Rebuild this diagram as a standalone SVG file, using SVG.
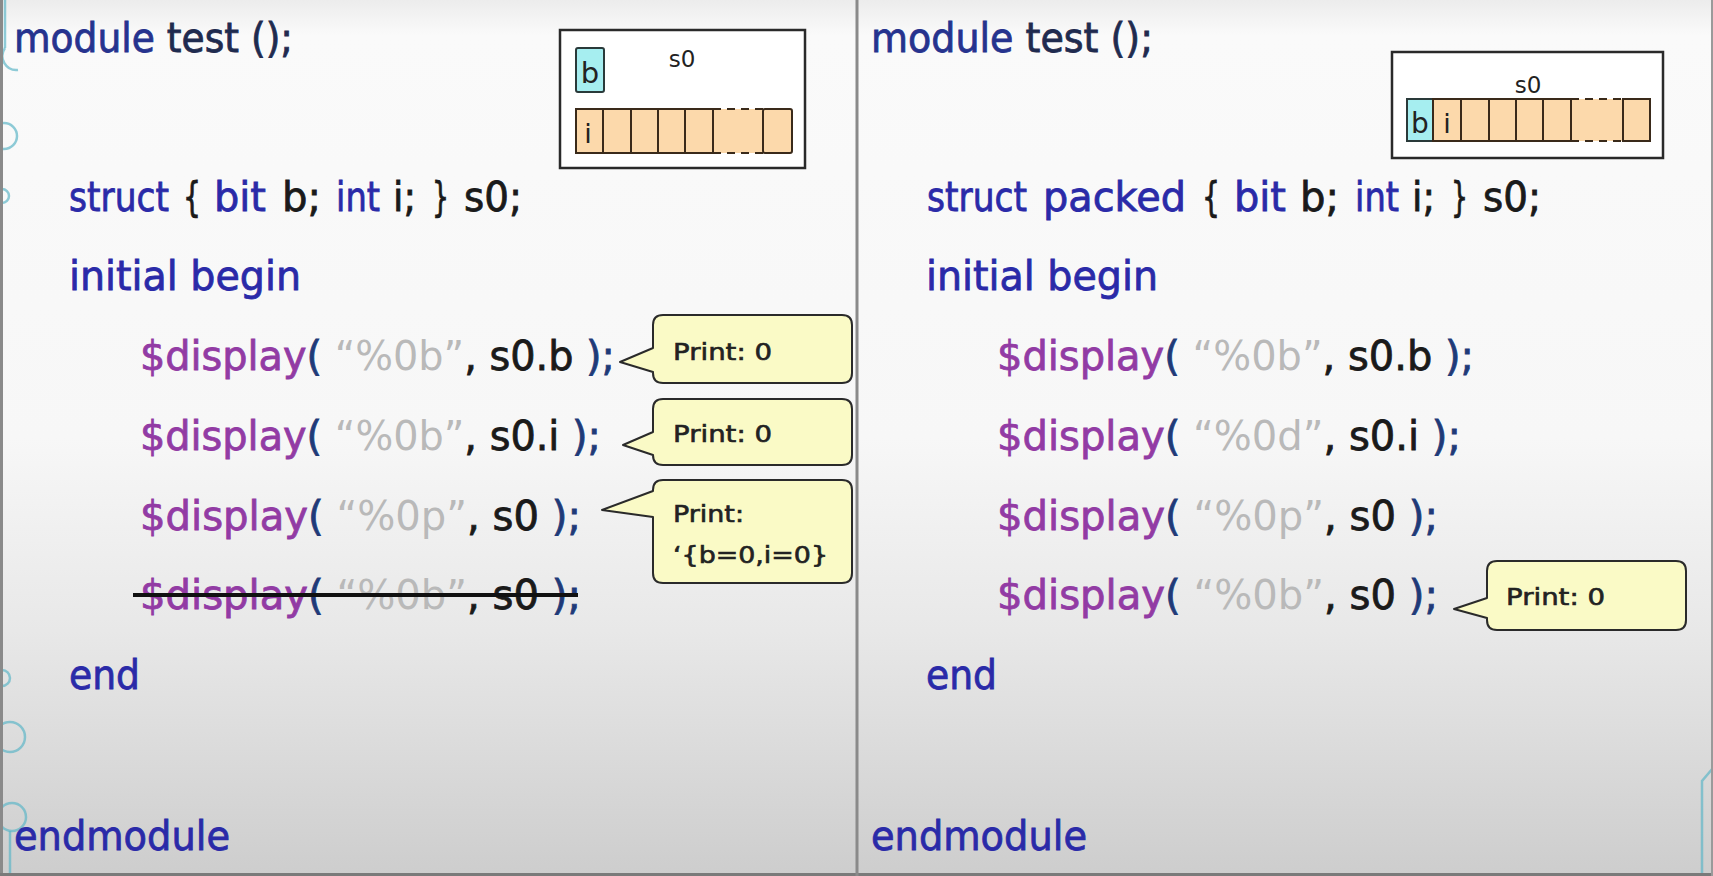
<svg xmlns="http://www.w3.org/2000/svg" width="1713" height="876" viewBox="0 0 1713 876">
<defs>
<linearGradient id="bg" x1="0" y1="0" x2="0" y2="1">
<stop offset="0" stop-color="#ececec"/>
<stop offset="0.04" stop-color="#fafafa"/>
<stop offset="0.5" stop-color="#f7f7f7"/>
<stop offset="0.72" stop-color="#e8e8e8"/>
<stop offset="1" stop-color="#cdcdcd"/>
</linearGradient>
</defs>
<style>
.code{font-family:"DejaVu Sans","Noto Sans",sans-serif;font-size:40px;fill:#1a1a1a;stroke:#1a1a1a;stroke-width:0.8}
.kw{fill:#2a2aa8;stroke:#2a2aa8}
.mod{fill:#26338e;stroke:#26338e}
.dk{fill:#1f2b4f;stroke:#1f2b4f}
.fn{fill:#923ba4;stroke:#923ba4}
.pn{fill:#1f3a78;stroke:#1f3a78}
.st{fill:#b9b9b9;stroke:none}
.lbl{font-family:"DejaVu Sans","Noto Sans",sans-serif;fill:#222}
.callout{fill:#fafac6;stroke:#2a2a2a;stroke-width:2;stroke-linejoin:round}
.ctext{font-family:"DejaVu Sans","Noto Sans",sans-serif;font-size:23px;fill:#222;stroke:#222;stroke-width:0.6}
.frame{fill:#ffffff;stroke:#2a2a2a;stroke-width:2.5}
.cell{fill:#fcd9ab;stroke:#3a2a1a;stroke-width:2}
.cyan{fill:#a6eef0;stroke:#2a3a3a;stroke-width:2}
.div{stroke:#3a2a1a;stroke-width:2}
.deco{fill:none;stroke:#5fb6c8;stroke-width:2.5;opacity:0.7}
</style>
<rect x="0" y="0" width="1713" height="876" fill="url(#bg)"/>
<g id="decoration">
<line x1="5" y1="0" x2="5" y2="48" class="deco"/>
<path d="M5,48 A14,14 0 0 0 18,70" class="deco"/>
<circle cx="4" cy="136" r="13" class="deco"/>
<circle cx="2" cy="196" r="7" class="deco"/>
<circle cx="2" cy="678" r="8" class="deco"/>
<circle cx="10" cy="737" r="15" class="deco"/>
<circle cx="12" cy="817" r="14" class="deco"/>
<line x1="10" y1="831" x2="10" y2="876" class="deco"/>
<path d="M1702,876 V781 L1713,768" class="deco"/>
</g>
<line x1="1.5" y1="0" x2="1.5" y2="876" stroke="#8a8a8a" stroke-width="3"/>
<line x1="0" y1="874.5" x2="1713" y2="874.5" stroke="#7a7a7a" stroke-width="3"/>
<line x1="1712" y1="0" x2="1712" y2="876" stroke="#9a9a9a" stroke-width="2"/>
<line id="divider" x1="857" y1="0" x2="857" y2="876" stroke="#8a8a8a" stroke-width="3"/>

<g id="left-code" class="code">
<text x="14" y="52" textLength="279" lengthAdjust="spacingAndGlyphs"><tspan class="mod">module</tspan><tspan class="dk"> test ();</tspan></text>
<text x="69" y="211" textLength="100" lengthAdjust="spacingAndGlyphs" class="kw">struct</text>
<text x="183" y="211" textLength="18" lengthAdjust="spacingAndGlyphs">{</text>
<text x="214" y="211" textLength="52" lengthAdjust="spacingAndGlyphs" class="kw">bit</text>
<text x="282" y="211" textLength="39" lengthAdjust="spacingAndGlyphs">b;</text>
<text x="336" y="211" textLength="44" lengthAdjust="spacingAndGlyphs" class="kw">int</text>
<text x="393" y="211" textLength="23" lengthAdjust="spacingAndGlyphs">i;</text>
<text x="432" y="211" textLength="17" lengthAdjust="spacingAndGlyphs">}</text>
<text x="464" y="211" textLength="58" lengthAdjust="spacingAndGlyphs">s0;</text>
<text x="69" y="290" textLength="232" lengthAdjust="spacingAndGlyphs" class="kw">initial begin</text>
<text x="140" y="370" textLength="475" lengthAdjust="spacingAndGlyphs"><tspan class="fn">$display</tspan><tspan class="pn">(</tspan> <tspan class="st">“%0b”</tspan>, s0.b <tspan class="pn">);</tspan></text>
<text x="140" y="450" textLength="461" lengthAdjust="spacingAndGlyphs"><tspan class="fn">$display</tspan><tspan class="pn">(</tspan> <tspan class="st">“%0b”</tspan>, s0.i <tspan class="pn">);</tspan></text>
<text x="140" y="530" textLength="441" lengthAdjust="spacingAndGlyphs"><tspan class="fn">$display</tspan><tspan class="pn">(</tspan> <tspan class="st">“%0p”</tspan>, s0 <tspan class="pn">);</tspan></text>
<text x="140" y="609" textLength="441" lengthAdjust="spacingAndGlyphs"><tspan class="fn">$display</tspan><tspan class="pn">(</tspan> <tspan class="st">“%0b”</tspan>, s0 <tspan class="pn">);</tspan></text>
<line x1="133" y1="595" x2="578" y2="595" stroke="#111" stroke-width="4"/>
<text x="69" y="689" textLength="71" lengthAdjust="spacingAndGlyphs" class="kw">end</text>
<text x="14" y="850" textLength="216" lengthAdjust="spacingAndGlyphs" class="kw">endmodule</text>
</g>

<g id="right-code" class="code">
<text x="871" y="52" textLength="282" lengthAdjust="spacingAndGlyphs"><tspan class="mod">module</tspan><tspan class="dk"> test ();</tspan></text>
<text x="927" y="211" textLength="100" lengthAdjust="spacingAndGlyphs" class="kw">struct</text>
<text x="1043" y="211" textLength="143" lengthAdjust="spacingAndGlyphs" class="kw">packed</text>
<text x="1202" y="211" textLength="18" lengthAdjust="spacingAndGlyphs">{</text>
<text x="1234" y="211" textLength="52" lengthAdjust="spacingAndGlyphs" class="kw">bit</text>
<text x="1300" y="211" textLength="39" lengthAdjust="spacingAndGlyphs">b;</text>
<text x="1355" y="211" textLength="44" lengthAdjust="spacingAndGlyphs" class="kw">int</text>
<text x="1412" y="211" textLength="23" lengthAdjust="spacingAndGlyphs">i;</text>
<text x="1451" y="211" textLength="17" lengthAdjust="spacingAndGlyphs">}</text>
<text x="1483" y="211" textLength="58" lengthAdjust="spacingAndGlyphs">s0;</text>
<text x="926" y="290" textLength="232" lengthAdjust="spacingAndGlyphs" class="kw">initial begin</text>
<text x="997" y="370" textLength="477" lengthAdjust="spacingAndGlyphs"><tspan class="fn">$display</tspan><tspan class="pn">(</tspan> <tspan class="st">“%0b”</tspan>, s0.b <tspan class="pn">);</tspan></text>
<text x="997" y="450" textLength="464" lengthAdjust="spacingAndGlyphs"><tspan class="fn">$display</tspan><tspan class="pn">(</tspan> <tspan class="st">“%0d”</tspan>, s0.i <tspan class="pn">);</tspan></text>
<text x="997" y="530" textLength="441" lengthAdjust="spacingAndGlyphs"><tspan class="fn">$display</tspan><tspan class="pn">(</tspan> <tspan class="st">“%0p”</tspan>, s0 <tspan class="pn">);</tspan></text>
<text x="997" y="609" textLength="441" lengthAdjust="spacingAndGlyphs"><tspan class="fn">$display</tspan><tspan class="pn">(</tspan> <tspan class="st">“%0b”</tspan>, s0 <tspan class="pn">);</tspan></text>
<text x="926" y="689" textLength="71" lengthAdjust="spacingAndGlyphs" class="kw">end</text>
<text x="871" y="850" textLength="216" lengthAdjust="spacingAndGlyphs" class="kw">endmodule</text>
</g>

<g id="box-unpacked">
<rect x="560" y="30" width="245" height="138" class="frame"/>
<rect x="576" y="48" width="28" height="44" rx="2" class="cyan"/>
<text x="590" y="83" text-anchor="middle" class="lbl" style="font-size:29px">b</text>
<text x="682" y="67" text-anchor="middle" class="lbl" style="font-size:23px">s0</text>
<rect x="576" y="109" width="187" height="44" fill="#fcd9ab" stroke="none"/>
<path d="M713,109 H576 V153 H713" fill="none" class="div"/>
<line x1="603" y1="109" x2="603" y2="153" class="div"/>
<line x1="631" y1="109" x2="631" y2="153" class="div"/>
<line x1="658" y1="109" x2="658" y2="153" class="div"/>
<line x1="685" y1="109" x2="685" y2="153" class="div"/>
<line x1="713" y1="109" x2="713" y2="153" class="div"/>
<path d="M713,109 H763 M713,153 H763" fill="none" class="div" stroke-dasharray="8,6"/>
<rect x="763" y="109" width="29" height="44" rx="2" class="cell"/>
<text x="588" y="143" text-anchor="middle" class="lbl" style="font-size:27px">i</text>
</g>

<g id="box-packed">
<rect x="1392" y="52" width="271" height="106" class="frame"/>
<text x="1528" y="93" text-anchor="middle" class="lbl" style="font-size:23px">s0</text>
<rect x="1407" y="99" width="26" height="42" class="cyan"/>
<rect x="1433" y="99" width="138" height="42" fill="#fcd9ab" stroke="none"/>
<rect x="1571" y="99" width="52" height="42" fill="#fcd9ab" stroke="none"/>
<path d="M1571,99 H1433 V141 H1571" fill="none" class="div"/>
<line x1="1461" y1="99" x2="1461" y2="141" class="div"/>
<line x1="1489" y1="99" x2="1489" y2="141" class="div"/>
<line x1="1516" y1="99" x2="1516" y2="141" class="div"/>
<line x1="1543" y1="99" x2="1543" y2="141" class="div"/>
<line x1="1571" y1="99" x2="1571" y2="141" class="div"/>
<path d="M1571,99 H1623 M1571,141 H1623" fill="none" class="div" stroke-dasharray="8,6"/>
<rect x="1623" y="99" width="27" height="42" class="cell"/>
<text x="1420" y="133" text-anchor="middle" class="lbl" style="font-size:28px">b</text>
<text x="1447" y="133" text-anchor="middle" class="lbl" style="font-size:27px">i</text>
</g>

<g id="connectors"></g>

<g id="callout-1">
<path class="callout" d="M663,315 H842 Q852,315 852,325 V373 Q852,383 842,383 H663 Q653,383 653,373 V372 L620,362 L653,348 V325 Q653,315 663,315 Z"/>
<text x="673" y="360" class="ctext" textLength="99" lengthAdjust="spacingAndGlyphs">Print: 0</text>
</g>
<g id="callout-2">
<path class="callout" d="M663,399 H842 Q852,399 852,409 V455 Q852,465 842,465 H663 Q653,465 653,455 V455 L623,445 L653,432 V409 Q653,399 663,399 Z"/>
<text x="673" y="442" class="ctext" textLength="99" lengthAdjust="spacingAndGlyphs">Print: 0</text>
</g>
<g id="callout-3">
<path class="callout" d="M663,480 H842 Q852,480 852,490 V573 Q852,583 842,583 H663 Q653,583 653,573 V517 L602,510 L653,491 V490 Q653,480 663,480 Z"/>
<text x="673" y="522" class="ctext" textLength="71" lengthAdjust="spacingAndGlyphs">Print:</text>
<text x="673" y="563" class="ctext" textLength="155" lengthAdjust="spacingAndGlyphs">‘{b=0,i=0}</text>
</g>
<g id="callout-4">
<path class="callout" d="M1497,561 H1676 Q1686,561 1686,571 V620 Q1686,630 1676,630 H1497 Q1487,630 1487,620 V618 L1454,609 L1487,598 V571 Q1487,561 1497,561 Z"/>
<text x="1506" y="605" class="ctext" textLength="99" lengthAdjust="spacingAndGlyphs">Print: 0</text>
</g>
</svg>
